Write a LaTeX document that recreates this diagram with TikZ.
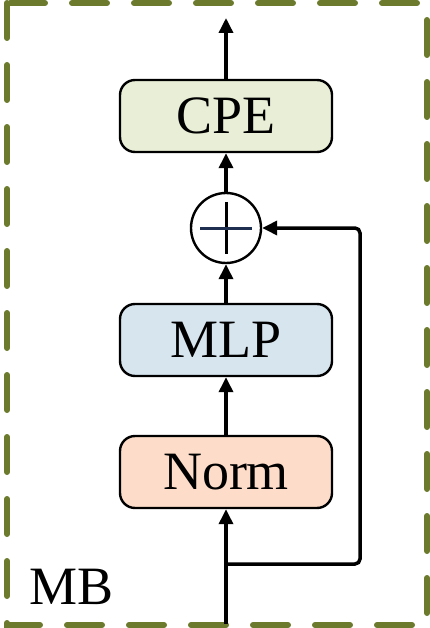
\documentclass[tikz,border=0pt]{standalone}
\usepackage{fontspec}
\setmainfont{Liberation Serif}
\usetikzlibrary{arrows.meta}
\definecolor{mbgreen}{HTML}{6B7A2C}
\definecolor{cpefill}{HTML}{E9EFD6}
\definecolor{mlpfill}{HTML}{D7E5EE}
\definecolor{normfill}{HTML}{FDDDC9}
\definecolor{plusblue}{HTML}{1F2F4F}

\begin{document}
\begin{tikzpicture}[x=1pt,y=-1pt,>={Triangle[length=15pt,width=14pt]}]
	\useasboundingbox (0,0) rectangle (430,628);
	\draw [mbgreen, line width=6pt, line cap=round, dash pattern=on 35pt off 27pt] (7,3) rectangle (427,625);
	\begin{scope}[every node/.style={rectangle,rounded corners=15pt,line width=2.4pt,draw,minimum width=212pt,minimum height=72pt,font=\fontsize{54}{60}\selectfont}]
	\node [fill=cpefill] (CPE) at (226,116) {CPE};
	\node [fill=mlpfill] (MLP) at (226,340) {MLP};
	\node [fill=normfill] (N) at (226,472) {Norm};
	\end{scope}
	\node [circle,draw,line width=2.4pt,minimum size=70pt,inner sep=0pt] (P) at (226,228) {};
	\draw [line width=3pt] (226,202) -- (226,254);
	\draw [plusblue, line width=3pt] (200,228) -- (252,228);
	\coordinate (in) at (226,624);
	\coordinate (out) at (226,18);
	\coordinate (s) at (226,564);
	\draw [line width=3.5pt, ->] (in) -- (N);
	\draw [line width=3.5pt, ->] (N) -- (MLP);
	\draw [line width=3.5pt, ->] (MLP) -- (P);
	\draw [line width=3.5pt, ->] (P) -- (CPE);
	\draw [line width=3.5pt, ->] (CPE) -- (out);
	\draw [line width=3.5pt, rounded corners=5pt, ->] (s) -| (360,228) -- (P);
	\node [font=\fontsize{54}{60}\selectfont] (mb) at (72,587) {MB};
	\end{tikzpicture}
\end{document}
